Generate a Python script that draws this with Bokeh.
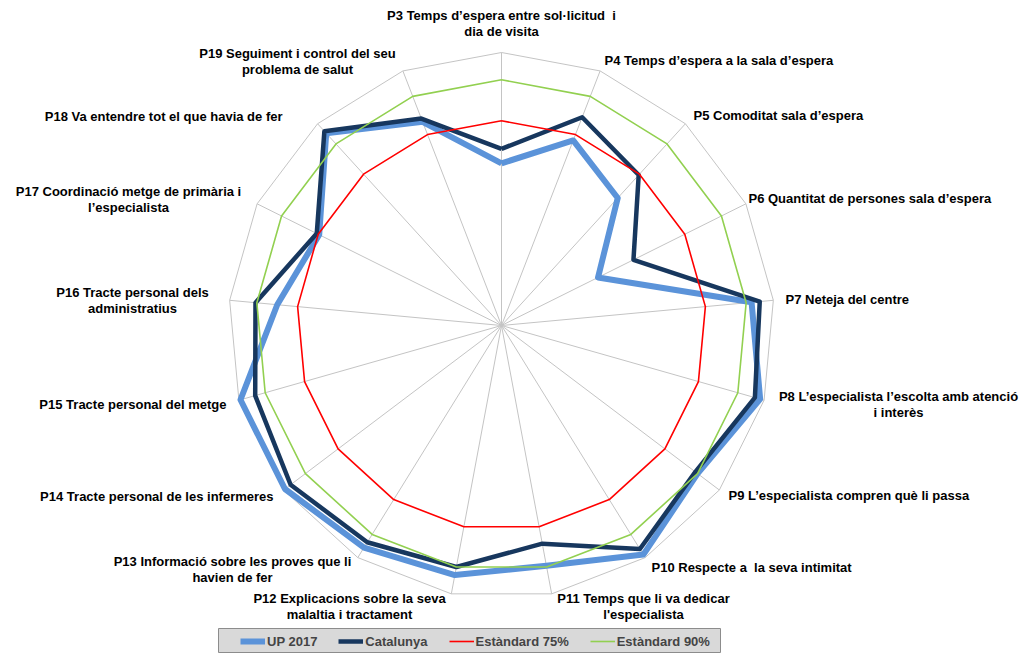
import math
from bokeh.plotting import figure
from bokeh.models import Range1d, Legend, LegendItem
from bokeh.core.properties import value
from bokeh.embed import file_html
from bokeh.resources import INLINE

# ---------------- data ----------------
categories = [
    "P3 Temps d’espera entre sol·licitud \u00a0i\ndia de visita",
    "P4 Temps d’espera a la sala d’espera",
    "P5 Comoditat sala d’espera",
    "P6 Quantitat de persones sala d’espera",
    "P7 Neteja del centre",
    "P8 L’especialista l’escolta amb atenció\ni interès",
    "P9 L’especialista compren què li passa",
    "P10 Respecte a \u00a0la seva intimitat",
    "P11 Temps que li va dedicar\nl'especialista",
    "P12 Explicacions sobre la seva\nmalaltia i tractament",
    "P13 Informació sobre les proves que li\nhavien de fer",
    "P14 Tracte personal de les infermeres",
    "P15 Tracte personal del metge",
    "P16 Tracte personal dels\nadministratius",
    "P17 Coordinació metge de primària i\nl’especialista",
    "P18 Va entendre tot el que havia de fer",
    "P19 Seguiment i control del seu\nproblema de salut",
]
up2017    = [59.4, 72.7, 63.2, 39.5, 92.0, 98.5, 90.0, 98.7, 89.5, 93.0, 95.7, 99.4, 99.4, 82.5, 74.6, 95.3, 80.0]
catalunya = [64.7, 81.8, 74.6, 54.0, 95.0, 96.5, 89.0, 96.3, 81.3, 90.0, 93.4, 96.8, 93.8, 90.5, 75.6, 96.3, 81.3]
std75     = [75, 75, 75, 75, 75, 75, 75, 75, 75, 75, 75, 75, 75, 75, 75, 75, 75]
std90     = [90, 90, 90, 90, 90, 90, 90, 90, 90, 90, 90, 90, 90, 90, 90, 90, 90]
series_names = ["UP 2017", "Catalunya", "Estàndard 75%", "Estàndard 90%"]
scale_max = 100

# ---------------- layout / style ----------------
W, H = 1031, 654
CX, CY, R = 501, 325, 273
FONT = "Liberation Sans"
FONT_SIZE = "13px"
colors = ["#5B93D9", "#17375E", "#FF0000", "#92D050"]
widths = [6, 4.5, 1.6, 1.6]
# label anchors: (x, y of first line, align)
label_pos = [
    (501, 15, "center"), (604, 60, "left"), (693, 115, "left"), (748, 198, "left"),
    (785, 299, "left"), (898, 396, "center"), (728, 495, "left"), (651, 567, "left"),
    (643, 598, "center"), (349, 598, "center"), (232, 561, "center"), (273, 496, "right"),
    (226, 404, "right"), (132, 292, "center"), (128, 191, "center"), (282, 116, "right"),
    (297, 53, "center"),
]
LINE_GAP = 16

N = len(categories)
angles = [math.pi / 2 - 2 * math.pi * i / N for i in range(N)]

def to_xy(vals):
    xs = [CX + R * v / scale_max * math.cos(a) for v, a in zip(vals, angles)]
    ys = [CY - R * v / scale_max * math.sin(a) for v, a in zip(vals, angles)]
    return xs + xs[:1], ys + ys[:1]

p = figure(width=W, height=H, output_backend="svg", toolbar_location=None,
           x_range=Range1d(0, W), y_range=Range1d(H, 0), min_border=0)
p.axis.visible = False
p.grid.visible = False
p.outline_line_color = None
p.background_fill_color = "white"
p.border_fill_color = "white"

# grid: spokes and outer ring
for a in angles:
    p.line([CX, CX + R * math.cos(a)], [CY, CY - R * math.sin(a)], line_color="#C4C4C4", line_width=1)
ox, oy = to_xy([scale_max] * N)
p.line(ox, oy, line_color="#C4C4C4", line_width=1)

renderers = []
for vals, c, w in zip([up2017, catalunya, std75, std90], colors, widths):
    xs, ys = to_xy(vals)
    r = p.line(xs, ys, line_color=c, line_width=w, line_join="round")
    renderers.append(r)

# labels
tx, ty, tt, ta = [], [], [], []
for cat, (x, y, al) in zip(categories, label_pos):
    for k, line in enumerate(cat.split("\n")):
        tx.append(x); ty.append(y + k * LINE_GAP); tt.append(line); ta.append(al)
for al in ["left", "center", "right"]:
    idx = [i for i in range(len(tt)) if ta[i] == al]
    p.text([tx[i] for i in idx], [ty[i] for i in idx], text=[tt[i] for i in idx],
           text_font=value(FONT), text_font_style="bold", text_font_size=FONT_SIZE,
           text_align=al, text_baseline="middle", text_color="#000000")

# legend box
p.quad(left=[218], right=[720], top=[628], bottom=[652], fill_color="#D9D9D9",
       line_color="#8C8C8C", line_width=1)
legend = Legend(items=[LegendItem(label=n, renderers=[r]) for n, r in zip(series_names, renderers)],
                orientation="horizontal", location=(240, 5), padding=0, margin=0,
                spacing=21, label_standoff=2, glyph_width=25, glyph_height=16, label_height=16,
                label_text_font=FONT, label_text_font_style="bold", label_text_font_size=FONT_SIZE,
                background_fill_alpha=0, border_line_alpha=0)
p.add_layout(legend)

open("out.html", "w").write(file_html(p, INLINE))
